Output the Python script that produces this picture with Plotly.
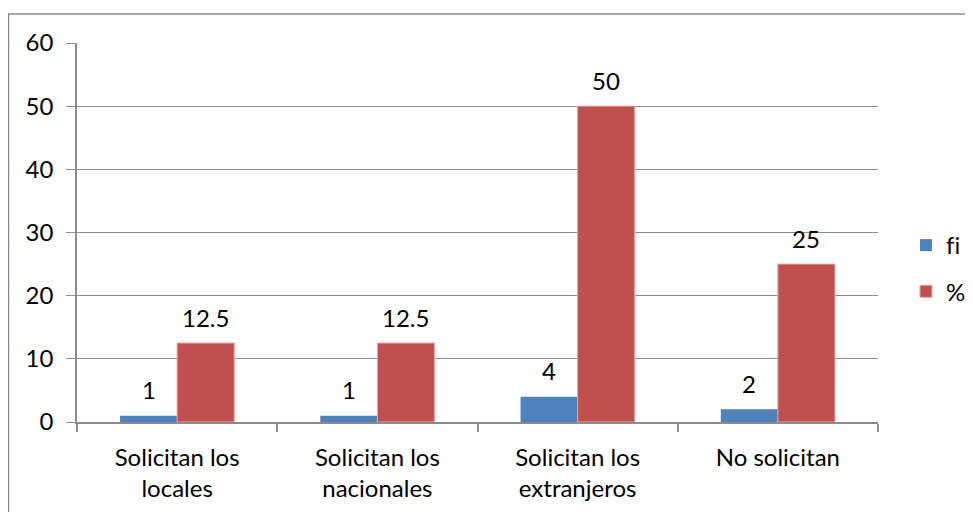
import plotly.graph_objects as go

categories = ["Solicitan los<br>locales", "Solicitan los<br>nacionales",
              "Solicitan los<br>extranjeros", "No solicitan"]
fi_values = [1, 1, 4, 2]
pct_values = [12.5, 12.5, 50, 25]
fi_labels = ["1", "1", "4", "2"]
pct_labels = ["12.5", "12.5", "50", "25"]
y_ticks = [0, 10, 20, 30, 40, 50, 60]
series_names = ["f\u200ci", "%"]

BLUE = "#4F81BD"
RED = "#C0504D"
GRAY = "#8C8C8C"
FONT = "Lato, Carlito, Calibri, sans-serif"
FS = 24

# page has an 8px body margin, so the figure is 8px smaller and shifted
OFF = 8
W, H = 973 - OFF, 512 - OFF
L, T = 77 - OFF, 43 - OFF
R = W - (878 - OFF)
B = H - (422 - OFF)
pw, ph = W - L - R, H - T - B

def px_x(p):  # page pixel -> paper
    return (p - OFF - L) / pw

def px_y(p):
    return (H - B - (p - OFF)) / ph

fig = go.Figure()
fig.add_trace(go.Bar(x=categories, y=fi_values, name=series_names[0], marker_color=BLUE,
                     marker_line_width=0, legendgroup="a"))
fig.add_trace(go.Bar(x=categories, y=pct_values, name=series_names[1], marker_color=RED,
                     marker_line_color="#E6A5A3", marker_line_width=1, legendgroup="b"))

ann = []
for c, v, t in zip(categories, fi_values, fi_labels):
    ann.append(dict(x=c, y=v, text=t, xshift=-28.5, yshift=26, showarrow=False,
                    yanchor="middle", font=dict(size=FS, color="black", family=FONT)))
for c, v, t in zip(categories, pct_values, pct_labels):
    ann.append(dict(x=c, y=v, text=t, xshift=28.5, yshift=26, showarrow=False,
                    yanchor="middle", font=dict(size=FS, color="black", family=FONT)))

fig.update_layout(
    width=W, height=H,
    margin=dict(l=L, r=R, t=T, b=B, pad=0, autoexpand=False),
    paper_bgcolor="white", plot_bgcolor="white",
    barmode="group", bargap=0.43, bargroupgap=0,
    font=dict(family=FONT, size=FS, color="black"),
    annotations=ann,
    showlegend=True,
    legend=dict(x=px_x(906), y=px_y(223), xanchor="left", yanchor="top",
                font=dict(size=FS, family=FONT), tracegroupgap=12,
                bgcolor="rgba(0,0,0,0)"),
    shapes=[dict(type="rect", xref="paper", yref="paper",
                 x0=px_x(8.5), x1=px_x(990), y0=px_y(530), y1=px_y(14),
                 line=dict(color="#8A8A8A", width=1.5), layer="below")],
)
fig.update_xaxes(type="category", automargin=False, showgrid=False, showline=True,
                 linecolor=GRAY, linewidth=1.5,
                 ticks="outside", tickson="boundaries", ticklen=8, tickcolor=GRAY, tickwidth=1.5,
                 ticklabelstandoff=13,
                 tickfont=dict(size=FS, family=FONT), range=[-0.5, 3.5])
fig.update_yaxes(automargin=False, range=[0, 60], tickvals=y_ticks, showgrid=True,
                 gridcolor=GRAY, gridwidth=1.2,
                 showline=True, linecolor=GRAY, linewidth=1.5, ticks="outside", ticklen=9,
                 tickcolor=GRAY, tickwidth=1.2, ticklabelstandoff=8,
                 tickfont=dict(size=FS, family=FONT), zeroline=False)

fig.write_html("out.html")
